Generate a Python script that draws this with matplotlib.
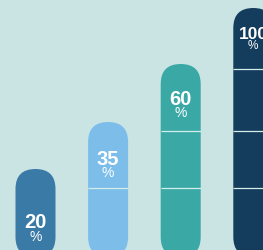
import matplotlib
matplotlib.use("Agg")
import matplotlib.pyplot as plt
from matplotlib.patches import FancyBboxPatch

# data
labels = ["20", "35", "60", "100"]
heights = [88, 135, 193, 249]          # bar tops
dividers = [69, 126, 188]              # white separator levels
colors = ["#3a7aa7", "#7cbee9", "#3aa9a6", "#143d5d"]

# layout: baseline drop of number / percent sign below bar top
num_drop = [59, 43, 41, 31]
pct_drop = [72, 55, 53, 41]
num_size = [14.5, 14.5, 14.5, 12.5]
pct_size = [10, 10, 10, 8.5]

bg = "#c9e4e3"
spacing = 72.6
x0 = 35.5
w = 40

fig = plt.figure(figsize=(2.63, 2.50), dpi=100)
fig.patch.set_facecolor(bg)
ax = fig.add_axes([0, 0, 1, 1])
ax.set_facecolor(bg)
ax.set_xlim(0, 263)
ax.set_ylim(7, 257)
ax.set_aspect("equal")
ax.axis("off")

fam = ["Liberation Sans", "DejaVu Sans"]

for i, (lab, h, c) in enumerate(zip(labels, heights, colors)):
  cx = x0 + spacing * i
  p = FancyBboxPatch((cx - w / 2, 0), w, h,
                     boxstyle="round,pad=0,rounding_size=20",
                     fc=c, ec="none", clip_on=True)
  ax.add_patch(p)
  for d in dividers[:i]:
    ax.plot([cx - w / 2, cx + w / 2], [d, d], color="#d4ecea", lw=0.9,
            solid_capstyle="butt")
  ax.text(cx, h - num_drop[i], lab, color="white", ha="center", va="baseline",
          fontsize=num_size[i], fontweight="bold", family=fam)
  ax.text(cx, h - pct_drop[i], "%", color="white", ha="center", va="baseline",
          fontsize=pct_size[i], family=fam)

fig.savefig("out.png", dpi=100, facecolor=bg)
